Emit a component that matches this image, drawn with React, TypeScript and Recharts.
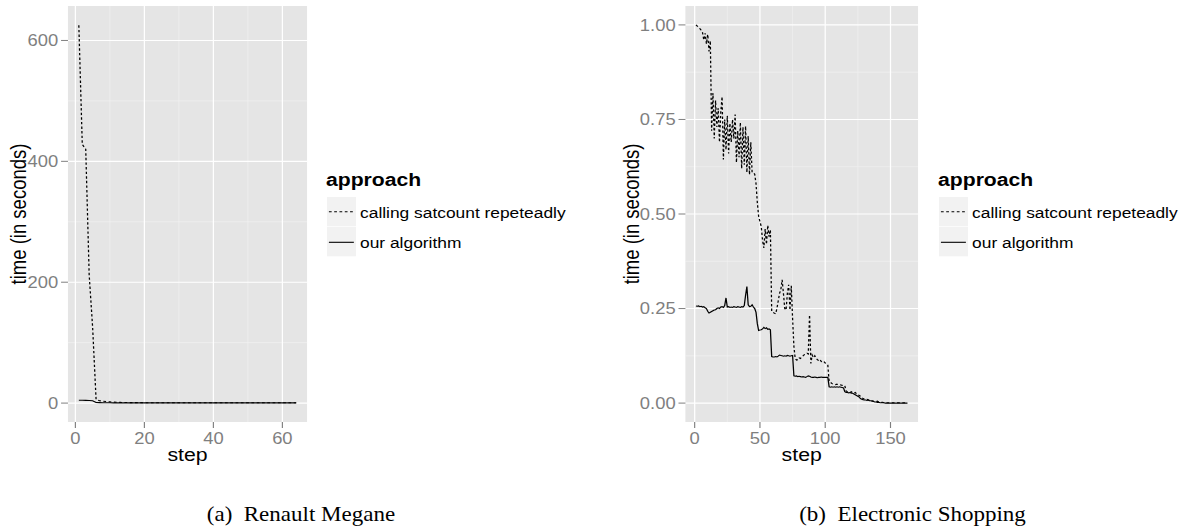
import { LineChart, Line, XAxis, YAxis, CartesianGrid } from "recharts"

// Renault Megane: time per step (seconds)
const leftSatcount = [
  625, 428, 420, 212, 125, 6, 4, 3, 2.5, 2,
  1.6, 1.3, 1.1, 1, 0.9, 0.8, 0.8, 0.7, 0.7, 0.6,
  0.6, 0.6, 0.6, 0.6, 0.6, 0.6, 0.6, 0.6, 0.6, 0.6,
  0.6, 0.6, 0.5, 0.5, 0.5, 0.5, 0.5, 0.5, 0.5, 0.5,
  0.5, 0.5, 0.5, 0.5, 0.5, 0.5, 0.5, 0.5, 0.5, 0.5,
  0.5, 0.5, 0.5, 0.5, 0.5, 0.5, 0.5, 0.5, 0.5, 0.5,
  0.5, 0.5, 0.5, 0.5,
]
const leftOurs = [
  4.6, 4.6, 4.5, 4.3, 3.8, 0.9, 0.7, 0.6, 0.5, 0.5,
  0.4, 0.4, 0.4, 0.4, 0.4, 0.4, 0.4, 0.4, 0.4, 0.4,
  0.4, 0.4, 0.4, 0.4, 0.4, 0.3, 0.3, 0.3, 0.3, 0.3,
  0.3, 0.3, 0.3, 0.3, 0.3, 0.3, 0.3, 0.3, 0.3, 0.3,
  0.3, 0.3, 0.3, 0.3, 0.3, 0.3, 0.3, 0.3, 0.3, 0.3,
  0.3, 0.3, 0.3, 0.3, 0.3, 0.3, 0.3, 0.3, 0.3, 0.3,
  0.3, 0.3, 0.3, 0.3,
]

// Electronic Shopping: time per step (seconds)
const rightSatcount = [
  1.0, 0.997, 0.993, 0.99, 0.986, 0.98, 0.96, 0.978, 0.95, 0.975,
  0.93, 0.958, 0.72, 0.82, 0.7, 0.8, 0.73, 0.78, 0.69, 0.77,
  0.81, 0.644, 0.75, 0.67, 0.76, 0.66, 0.74, 0.69, 0.75, 0.7,
  0.763, 0.636, 0.72, 0.65, 0.742, 0.62, 0.73, 0.63, 0.732, 0.61,
  0.706, 0.604, 0.69, 0.61, 0.609, 0.605, 0.58, 0.53, 0.494, 0.48,
  0.467, 0.43, 0.41, 0.46, 0.42, 0.47, 0.44, 0.458, 0.242, 0.24,
  0.238, 0.236, 0.25, 0.27, 0.29, 0.3, 0.326, 0.29, 0.25, 0.246,
  0.29, 0.313, 0.246, 0.31, 0.224, 0.15, 0.118, 0.114, 0.115, 0.12,
  0.118, 0.122, 0.125, 0.128, 0.13, 0.132, 0.13, 0.233, 0.105, 0.127,
  0.12, 0.125, 0.118, 0.115, 0.112, 0.115, 0.11, 0.108, 0.11, 0.106,
  0.104, 0.1, 0.057, 0.055, 0.052, 0.05, 0.05, 0.049, 0.05, 0.048,
  0.049, 0.048, 0.047, 0.048, 0.046, 0.032, 0.03, 0.03, 0.028, 0.03,
  0.027, 0.026, 0.028, 0.025, 0.024, 0.02, 0.018, 0.015, 0.012, 0.01,
  0.009, 0.01, 0.008, 0.009, 0.007, 0.006, 0.005, 0.006, 0.004, 0.005,
  0.003, 0.003, 0.002, 0.002, 0.001, 0.001, 0.001, 0.001, 0.001, 0.001,
  0.001, 0.001, 0.001, 0.001, 0.001, 0.001, 0.001, 0.001, 0.001, 0.001,
  0.001, 0.001, 0.001,
]
const rightOurs = [
  0.257, 0.256, 0.257, 0.255, 0.256, 0.254, 0.255, 0.252, 0.25, 0.243,
  0.238, 0.24, 0.242, 0.244, 0.246, 0.247, 0.25, 0.252, 0.25, 0.254,
  0.255, 0.253, 0.258, 0.278, 0.254, 0.255, 0.253, 0.254, 0.253, 0.255,
  0.254, 0.253, 0.255, 0.254, 0.253, 0.255, 0.254, 0.258, 0.285, 0.308,
  0.26, 0.255, 0.256, 0.26, 0.254, 0.25, 0.24, 0.21, 0.192, 0.193,
  0.194, 0.196, 0.2, 0.197, 0.199, 0.195, 0.196, 0.194, 0.123, 0.122,
  0.122, 0.123, 0.122, 0.124, 0.127, 0.126, 0.125, 0.124, 0.125, 0.124,
  0.126, 0.125, 0.124, 0.125, 0.126, 0.072, 0.071, 0.072, 0.07, 0.071,
  0.07, 0.069, 0.07, 0.069, 0.068, 0.07, 0.072, 0.071, 0.069, 0.068,
  0.068, 0.069, 0.068, 0.067, 0.068, 0.068, 0.069, 0.068, 0.068, 0.068,
  0.068, 0.068, 0.043, 0.042, 0.043, 0.042, 0.043, 0.042, 0.043, 0.042,
  0.043, 0.042, 0.041, 0.04, 0.03, 0.028, 0.028, 0.027, 0.028, 0.026,
  0.026, 0.024, 0.022, 0.02, 0.018, 0.016, 0.012, 0.01, 0.009, 0.008,
  0.008, 0.007, 0.008, 0.006, 0.006, 0.005, 0.004, 0.003, 0.003, 0.002,
  0.002, 0.001, 0.001, 0.001, 0.001, 0, 0, 0, 0, 0,
  0, 0, 0, 0, 0, 0, 0, 0, 0, 0,
  0, 0, 0,
]

const leftXTicks = [0, 20, 40, 60]
const leftXMinor = [10, 30, 50]
const leftYTicks = [0, 200, 400, 600]
const leftYMinor = [100, 300, 500]
const rightXTicks = [0, 50, 100, 150]
const rightXMinor = [25, 75, 125]
const rightYTicks = [0, 0.25, 0.5, 0.75, 1]
const rightYMinor = [0.125, 0.375, 0.625, 0.875]

const seriesNames = ["calling satcount repeteadly", "our algorithm"]
const legendTitle = "approach"
const captions = ["(a)  Renault Megane", "(b)  Electronic Shopping"]

// the reference is stretched horizontally, so draw narrower and scale x
const SX = 1.15
const GREY = "#7F7F7F"

const toRows = (sat: number[], ours: number[]) =>
  sat.map((v, i) => ({ step: i + 1, satcount: v, ours: ours[i] }))

function Panel({ rows, xDomain, yDomain, xTicks, xMinor, yTicks, yMinor, fmt, margin, labelOffset }: any) {
  return (
    <LineChart width={520} height={470} data={rows} margin={margin}>
      <CartesianGrid fill="#E5E5E5" stroke="#F2F2F2" strokeWidth={0.6} horizontalValues={yMinor} verticalValues={xMinor} />
      <CartesianGrid stroke="#FFFFFF" strokeWidth={1.1} horizontalValues={yTicks} verticalValues={xTicks} />
      <XAxis
        type="number" dataKey="step" domain={xDomain} ticks={xTicks} interval={0} allowDataOverflow
        axisLine={false} tickSize={6} tickMargin={5} height={26}
        tickLine={{ stroke: GREY }} tick={{ fill: GREY, fontSize: 16 }}
        label={{ value: "step", position: "bottom", offset: 0, fill: "#000", fontSize: 18.5 }}
      />
      <YAxis
        type="number" domain={yDomain} ticks={yTicks} interval={0} allowDataOverflow
        axisLine={false} tickSize={6} tickMargin={2.5} width={52} tickFormatter={fmt}
        tickLine={{ stroke: GREY }} tick={{ fill: GREY, fontSize: 16 }}
        label={{ value: "time (in seconds)", angle: -90, position: "insideLeft", offset: labelOffset, fill: "#000", fontSize: 18.5, style: { textAnchor: "middle" } }}
      />
      <Line type="linear" dataKey="satcount" stroke="#000" strokeWidth={1.1} strokeDasharray="2.4 2.2" dot={false} isAnimationActive={false} />
      <Line type="linear" dataKey="ours" stroke="#000" strokeWidth={1.1} dot={false} isAnimationActive={false} />
    </LineChart>
  )
}

const Legend = ({ x }: { x: number }) => (
  <g>
    <text x={x} y={186} fontSize={18.4} fontWeight="bold" fill="#000">{legendTitle}</text>
    <rect x={x + 0.8} y={197} width={25.2} height={29.3} fill="#F2F2F2" />
    <rect x={x + 0.8} y={227} width={25.2} height={29.3} fill="#F2F2F2" />
    <line x1={x + 2.5} x2={x + 24.2} y1={211.7} y2={211.7} stroke="#000" strokeWidth={1.1} strokeDasharray="2.4 2.2" />
    <line x1={x + 2.5} x2={x + 24.2} y1={242.3} y2={242.3} stroke="#000" strokeWidth={1.1} />
    <text x={x + 29.6} y={218} fontSize={15.1} fill="#000">{seriesNames[0]}</text>
    <text x={x + 29.6} y={248} fontSize={15.1} fill="#000">{seriesNames[1]}</text>
  </g>
)

export default function App() {
  return (
    <div style={{ position: "absolute", left: 0, top: 0, width: 1196, height: 529, overflow: "hidden", background: "#fff" }}>
      <div style={{ position: "relative", width: 1196 / SX, height: 529, transform: `scaleX(${SX})`, transformOrigin: "0 0", fontFamily: '"Liberation Sans", Arial, sans-serif' }}>
        <div style={{ position: "absolute", left: 0, top: 0 }}>
          <Panel
            rows={toRows(leftSatcount, leftOurs)}
            xDomain={[-2.15, 67.15]} yDomain={[-31.3, 657]}
            xTicks={leftXTicks} xMinor={leftXMinor} yTicks={leftYTicks} yMinor={leftYMinor}
            fmt={(v: number) => String(v)}
            margin={{ top: 6, left: 7.1, right: 253, bottom: 22 }}
            labelOffset={8.6}
          />
        </div>
        <div style={{ position: "absolute", left: 520, top: 0 }}>
          <Panel
            rows={toRows(rightSatcount, rightOurs)}
            xDomain={[-7.1, 171.1]} yDomain={[-0.05, 1.05]}
            xTicks={rightXTicks} xMinor={rightXMinor} yTicks={rightYTicks} yMinor={rightYMinor}
            fmt={(v: number) => v.toFixed(2)}
            margin={{ top: 6, left: 24, right: 241.7, bottom: 22 }}
            labelOffset={4.7}
          />
        </div>
        <svg width={1196 / SX} height={529} style={{ position: "absolute", left: 0, top: 0, pointerEvents: "none" }}>
          <Legend x={283.5} />
          <Legend x={815.7} />
          <text x={261.7} y={521} fontSize={20} textAnchor="middle" fill="#000" style={{ fontFamily: '"Liberation Serif", "Times New Roman", serif', whiteSpace: "pre" }}>{captions[0]}</text>
          <text x={793.5} y={521} fontSize={20} textAnchor="middle" fill="#000" style={{ fontFamily: '"Liberation Serif", "Times New Roman", serif', whiteSpace: "pre" }}>{captions[1]}</text>
        </svg>
      </div>
    </div>
  )
}
